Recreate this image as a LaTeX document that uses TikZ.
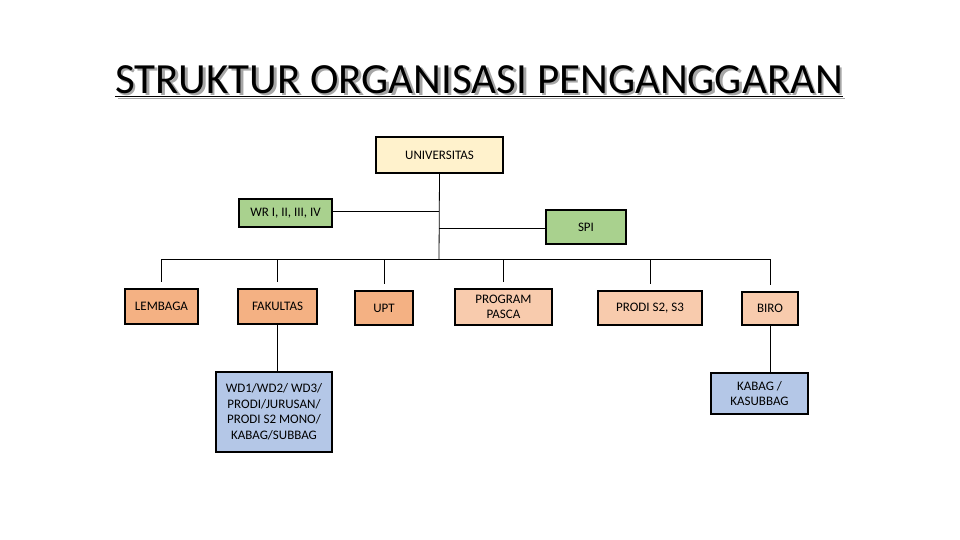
\documentclass[tikz,border=0pt]{standalone}
\usepackage{fontspec}
\setmainfont{Carlito}
\usetikzlibrary{positioning,calc}

\definecolor{cream}{HTML}{FFF2CC}
\definecolor{leaf}{HTML}{A9D18E}
\definecolor{peach}{HTML}{F4B183}
\definecolor{peachlight}{HTML}{F8CBAD}
\definecolor{steel}{HTML}{B4C7E7}

\begin{document}
\begin{tikzpicture}[x=1pt, y=-1pt,
    unit/.style={draw=black, line width=1.6pt, align=center, inner sep=2pt,
                 font=\fontsize{13}{15.5}\selectfont},
    link/.style={black, line width=0.8pt}
  ]
  \useasboundingbox (0,0) rectangle (960,540);

  % Judul
  \node[gray!70, anchor=base, font=\fontsize{43}{48}\selectfont] at (481.5,96)
    {\underline{STRUKTUR ORGANISASI PENGANGGARAN}};
  \node (judul) [anchor=base, font=\fontsize{43}{48}\selectfont] at (479,94)
    {\underline{STRUKTUR ORGANISASI PENGANGGARAN}};

  % Pimpinan
  \node (univ) [unit, fill=cream, minimum width=127pt, minimum height=36pt] at (439.5,155) {UNIVERSITAS};
  \node (wr)   [unit, fill=leaf, minimum width=93pt, minimum height=28pt] at (285.5,213) {WR I, II, III, IV};
  \node (spi)  [unit, fill=leaf, minimum width=80pt, minimum height=34pt] at (586,227) {SPI};

  % Unit kerja
  \node (lembaga)  [unit, fill=peach, minimum width=73pt, minimum height=35pt] at (161.5,306.5) {LEMBAGA};
  \node (fakultas) [unit, fill=peach, minimum width=79pt, minimum height=35pt] at (277.5,306.5) {FAKULTAS};
  \node (upt)      [unit, fill=peach, minimum width=58pt, minimum height=34pt] at (384,308) {UPT};
  \node (pasca)    [unit, fill=peachlight, minimum width=97pt, minimum height=36pt] at (503.5,307) {PROGRAM\\PASCA};
  \node (prodi)    [unit, fill=peachlight, minimum width=104pt, minimum height=34pt] at (650,308) {PRODI S2, S3};
  \node (biro)     [unit, fill=peachlight, minimum width=56pt, minimum height=33pt] at (770,308.5) {BIRO};

  % Bawahan
  \node (wd)    [unit, fill=steel, minimum width=116pt, minimum height=80pt] at (274,412) {WD1/WD2/ WD3/\\PRODI/JURUSAN/\\PRODI S2 MONO/\\KABAG/SUBBAG};
  \node (kabag) [unit, fill=steel, minimum width=97pt, minimum height=41pt] at (759.5,393.5) {KABAG /\\KASUBBAG};

  % Titik bantu
  \coordinate (bus) at (439,259);
  \coordinate (jwr) at (439,211);
  \coordinate (jspi) at (439,228);

  % Garis
  \draw[link] (univ.south) -- (bus);
  \draw[link] (wr.east |- jwr) -- (jwr);
  \draw[link] (jspi) -- (spi.west |- jspi);
  \draw[link] (lembaga |- bus) -- (biro |- bus);
  \foreach \u in {lembaga,fakultas,upt,pasca,prodi,biro}
    \draw[link] (\u |- bus) -- ($(\u.north)+(0,-6)$);
  \draw[link] (fakultas.south) -- (fakultas.south |- wd.north);
  \draw[link] (biro.south) -- (biro.south |- kabag.north);
\end{tikzpicture}
\end{document}
